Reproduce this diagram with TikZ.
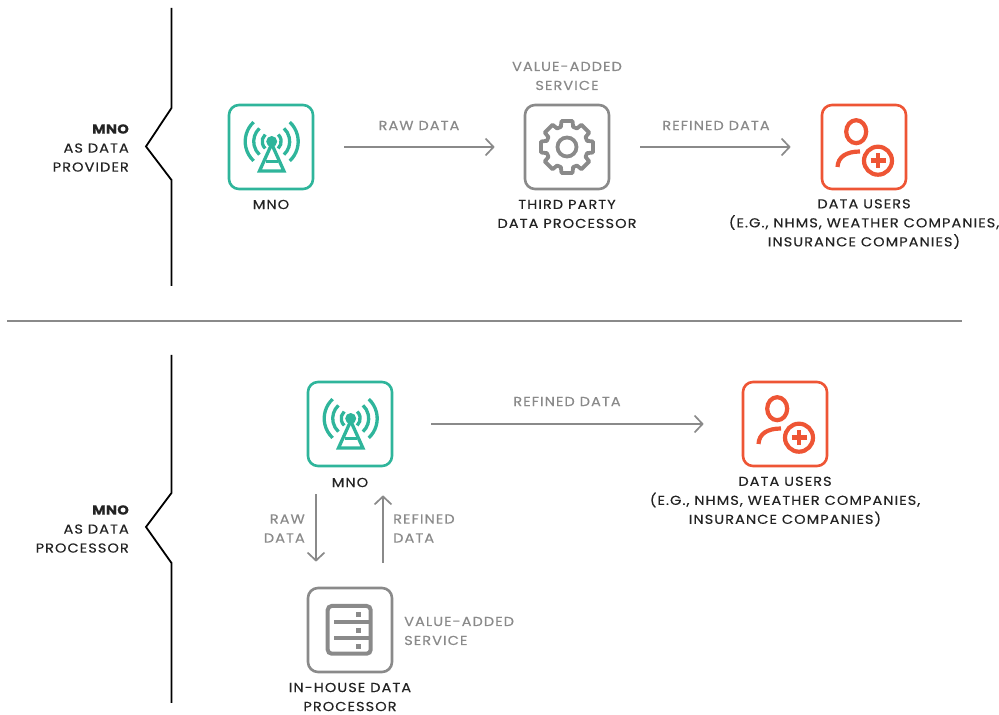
\documentclass[tikz,border=0pt]{standalone}
\usepackage{fontspec}
\setmainfont[LetterSpace=8, FakeStretch=1.12, FakeBold=0.25, BoldFeatures={FakeBold=0.6,LetterSpace=3}]{Poppins}
\usetikzlibrary{arrows.meta,calc}
\definecolor{tealc}{HTML}{2FB59B}
\definecolor{redc}{HTML}{EE5535}
\definecolor{greyc}{HTML}{8A8A8A}
\definecolor{textc}{HTML}{232323}
\def\towericon(#1,#2){
	\begin{scope}[shift={(#1,#2)}, color=tealc, line width=3.3pt]
		\fill (0.7,5.5) circle (5.5);
		\draw[line join=miter] (0.7,3) -- (-11.5,-24) -- (12.9,-24) -- cycle;
		\draw (-5.5,-14.5) -- (7,-14.5);
		\foreach \r in {9.5,18,26.5} {
			\draw ($(0.7,5.5)+(133:\r)$) arc (133:227:\r);
			\draw ($(0.7,5.5)+(-47:\r)$) arc (-47:47:\r);
		}
	\end{scope}
}
\def\usericon(#1,#2){
	\begin{scope}[shift={(#1,#2)}, color=redc, line width=4.2pt]
		\draw (-7.8,15.3) ellipse (10 and 11.5);
		\draw (-26.5,-20) .. controls (-26,-10) and (-18,-4.5) .. (-4,-4.5);
		\draw (14,-13.7) circle (14);
		\draw[line width=4.8pt] (6.5,-13.7) -- (21.5,-13.7);
		\draw[line width=4.8pt] (14,-21.2) -- (14,-6.2);
	\end{scope}
}
\def\gearicon(#1,#2){
	\begin{scope}[shift={(#1,#2)}, color=greyc, line width=3.8pt]
		\draw (0,0) circle (9.5);
		\draw[line join=round] (-12:26.5)
		\foreach \a in {0,45,...,315} {
			-- (\a+12:26.5) -- (\a+17:21) -- (\a+28:21) -- (\a+33:26.5)
		} -- cycle;
	\end{scope}
}
\def\servericon(#1,#2){
	\begin{scope}[shift={(#1,#2)}, color=greyc, line width=4pt]
		\draw[rounded corners=4pt] (-22.3,-23.7) rectangle (20.7,24);
		\draw (-16,8.3) -- (20.7,8.3);
		\draw (-16,-8.3) -- (20.7,-8.3);
		\fill (5.8,13.2) rectangle (10.8,18.2);
		\fill (5.8,-2.8) rectangle (10.8,2.2);
		\fill (5.8,-18.8) rectangle (10.8,-13.8);
	\end{scope}
}
\tikzset{
	iconbox/.style={draw=#1, line width=2.6pt, rounded corners=10pt, minimum size=84pt, inner sep=0pt},
	flow/.style={draw=greyc, line width=1.7pt, -{Straight Barb[length=8pt,width=17pt,line width=1.7pt]}},
	darktxt/.style={text=textc, align=center, font=\fontsize{13}{19}\selectfont, inner sep=0pt},
	greytxt/.style={text=greyc, align=center, font=\fontsize{13}{19}\selectfont, inner sep=0pt},
	sidetxt/.style={text=textc, align=right, anchor=east, font=\fontsize{13}{19}\selectfont, inner sep=0pt},
	brace/.style={draw=black, line width=1.8pt, line join=miter}
}
\begin{document}
\begin{tikzpicture}[x=1pt, y=1pt]
	\useasboundingbox (0,0) rectangle (999,715);

	%%%%% TOP %%%%%
	\draw[brace] (171.5,707) -- (171.5,607) -- (146,568.5) -- (171.5,535) -- (171.5,429);
	\node[sidetxt] (sideA) at (129,567) {{\bfseries MNO}\\AS DATA\\PROVIDER};

	\node[iconbox=tealc] (mnoA) at (271,568) {};
	\towericon(271,568)
	\node[darktxt] (mnoAtxt) at (271,510.5) {MNO};

	\node[iconbox=greyc] (procA) at (567,568) {};
	\gearicon(567,568)
	\node[greytxt] (vasA) at (567,639) {VALUE-ADDED\\SERVICE};
	\node[darktxt] (procAtxt) at (567,501) {THIRD PARTY\\DATA PROCESSOR};

	\node[iconbox=redc] (usersA) at (864,568) {};
	\usericon(864,568)
	\node[darktxt] (usersAtxt) at (864,491) {DATA USERS\\(E.G., NHMS, WEATHER COMPANIES,\\INSURANCE COMPANIES)};

	\draw[flow, shorten <=30pt, shorten >=29pt] (mnoA) -- (procA);
	\draw[flow, shorten <=30pt, shorten >=30pt] (procA) -- (usersA);
	\node[greytxt] (rawA) at (419,589.5) {RAW DATA};
	\node[greytxt] (refA) at (716,589.5) {REFINED DATA};

	%%%%% SPLIT %%%%%
	\draw[draw=greyc, line width=1.2pt] (7,394) -- (962,394);

	%%%%% BOTTOM %%%%%
	\draw[brace] (171.5,360) -- (171.5,222) -- (146,188) -- (171.5,152) -- (171.5,12);
	\node[sidetxt] (sideB) at (129,186) {{\bfseries MNO}\\AS DATA\\PROCESSOR};

	\node[iconbox=tealc] (mnoB) at (350,291) {};
	\towericon(350,291)
	\node[darktxt] (mnoBtxt) at (350,232.5) {MNO};

	\node[iconbox=redc] (usersB) at (785,291) {};
	\usericon(785,291)
	\node[darktxt] (usersBtxt) at (785,213.5) {DATA USERS\\(E.G., NHMS, WEATHER COMPANIES,\\INSURANCE COMPANIES)};

	\node[iconbox=greyc] (serverB) at (350,85) {};
	\servericon(350,85)
	\node[darktxt] (serverBtxt) at (350,18) {IN-HOUSE DATA\\PROCESSOR};
	\node[greytxt, align=left, anchor=west] (vasB) at (404,84) {VALUE-ADDED\\SERVICE};

	\draw[flow, shorten <=38pt, shorten >=38pt] (mnoB) -- (usersB);
	\node[greytxt] (refB) at (567,313.5) {REFINED DATA};
	\draw[flow, shorten <=27pt, shorten >=25pt] ([xshift=-34pt]mnoB.south) -- ([xshift=-34pt]serverB.north);
	\draw[flow, shorten <=24pt, shorten >=28pt] ([xshift=33pt]serverB.north) -- ([xshift=33pt]mnoB.south);
	\node[greytxt, align=right, anchor=east] (rawB) at (305,186.5) {RAW\\DATA};
	\node[greytxt, align=left, anchor=west] (refC) at (393,186.5) {REFINED\\DATA};
\end{tikzpicture}
\end{document}
